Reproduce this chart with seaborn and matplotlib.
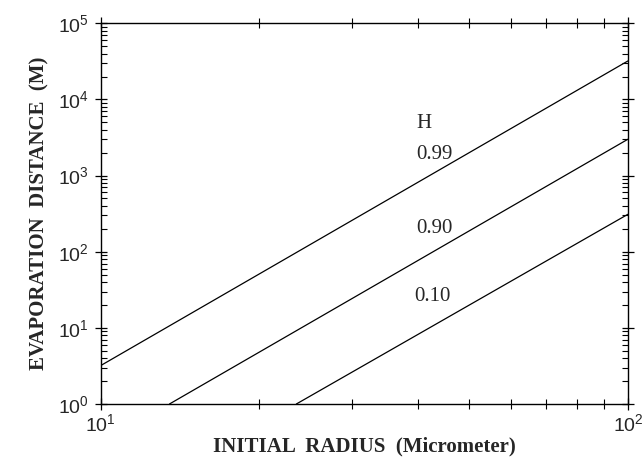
import numpy as np
import pandas as pd
import seaborn as sns
import matplotlib
matplotlib.use("Agg")
import matplotlib.pyplot as plt
from matplotlib.ticker import LogLocator, NullFormatter

# values (straight lines on log-log axes)
radius_99 = [10.0, 100.0]
dist_99 = [3.2, 32000.0]
radius_90 = [13.5, 100.0]
dist_90 = [1.0, 3000.0]
radius_10 = [23.5, 100.0]
dist_10 = [1.0, 310.0]

sns.set_style("ticks")
plt.rcParams["font.family"] = ["Liberation Serif", "DejaVu Serif"]

fig = plt.figure(figsize=(6.42, 4.57), dpi=100)
ax = fig.add_axes([0.157, 0.116, 0.821, 0.833])

for r, d in [(radius_99, dist_99), (radius_90, dist_90), (radius_10, dist_10)]:
    sns.lineplot(x=r, y=d, ax=ax, color="black", lw=0.9)

ax.set_xscale("log")
ax.set_yscale("log")
ax.set_xlim(10, 100)
ax.set_ylim(1, 1e5)

ax.xaxis.set_minor_locator(LogLocator(base=10, subs=np.arange(2, 10), numticks=5))
ax.yaxis.set_minor_locator(LogLocator(base=10, subs=np.arange(2, 10), numticks=10))
ax.xaxis.set_minor_formatter(NullFormatter())
ax.yaxis.set_minor_formatter(NullFormatter())

ax.set_xticks([10, 100])
ax.set_xticklabels([r"$\mathregular{10^{1}}$", r"$\mathregular{10^{2}}$"],
                   fontfamily="Liberation Sans", fontsize=14)
ax.set_yticks([1, 10, 100, 1e3, 1e4, 1e5])
ax.set_yticklabels([r"$\mathregular{10^{%d}}$" % k for k in range(6)],
                   fontfamily="Liberation Sans", fontsize=14)

ax.tick_params(which="major", direction="inout", length=9, width=0.9,
               top=True, right=True, color="black")
ax.tick_params(axis="x", which="minor", direction="inout", length=7, width=0.8,
               top=True, color="black")
ax.tick_params(axis="y", which="minor", direction="in", length=4, width=0.8,
               right=True, color="black")
ax.tick_params(axis="x", pad=2)
ax.tick_params(axis="y", pad=4)

for s in ax.spines.values():
    s.set_linewidth(1.0)
    s.set_color("black")

ax.set_xlabel("INITIAL  RADIUS  (Micrometer)", fontweight="bold", fontsize=15, labelpad=1)
ax.set_ylabel("EVAPORATION  DISTANCE  (M)", fontweight="bold", fontsize=15, labelpad=6)

ax.text(41, 4900, "H", fontsize=15, ha="center", va="center")
ax.text(43, 1900, "0.99", fontsize=15, ha="center", va="center")
ax.text(43, 200, "0.90", fontsize=15, ha="center", va="center")
ax.text(42.5, 26, "0.10", fontsize=15, ha="center", va="center")

fig.savefig("out.png", dpi=100)
